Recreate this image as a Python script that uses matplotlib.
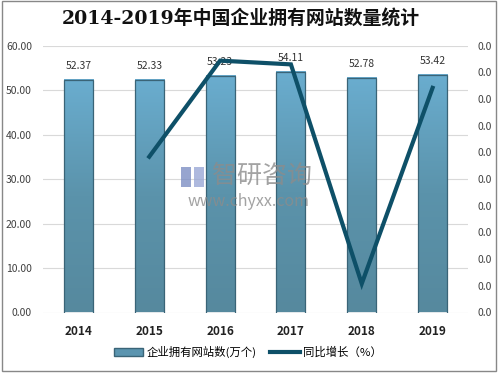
import numpy as np
import matplotlib
matplotlib.use("Agg")
import matplotlib.pyplot as plt
from matplotlib.patches import Rectangle, Patch
from matplotlib.lines import Line2D

plt.rcParams['font.family'] = ['Noto Sans CJK SC', 'DejaVu Sans']

# data
years = ['2014', '2015', '2016', '2017', '2018', '2019']
sites = [52.37, 52.33, 53.23, 54.11, 52.78, 53.42]
growth = [None, -0.0008, 0.0172, 0.0165, -0.0246, 0.0121]
left_ticks = [0, 10, 20, 30, 40, 50, 60]
right_ticks = [-0.03, -0.025, -0.02, -0.015, -0.01, -0.005, 0, 0.005, 0.01, 0.015, 0.02]

fig = plt.figure(figsize=(5.0, 3.77), dpi=100)
W, H = 500, 377
ax = fig.add_axes([43 / W, 1 - 312.5 / H, (468 - 43) / W, (312.5 - 45.7) / H])

x = np.arange(len(years))
bw = 0.41

# gradient bars
grad = np.linspace(0, 1, 256).reshape(-1, 1)
cmap = matplotlib.colors.LinearSegmentedColormap.from_list('b', ['#56899e', '#5b93ab', '#6aadcf'])
for xi, v in zip(x, sites):
    ax.imshow(grad, cmap=cmap, aspect='auto', origin='lower',
              extent=(xi - bw / 2, xi + bw / 2, 0, v), zorder=2)
    ax.add_patch(Rectangle((xi - bw / 2, 0), bw, v, fill=False,
                           edgecolor='#3a6477', lw=0.9, zorder=3))
    ax.text(xi, v + 2.0, f'{v:.2f}', ha='center', va='bottom', fontsize=7.5,
            color='#333333', zorder=4)
ax.set_xlim(-0.5, 5.5)
ax.set_ylim(0, 60)

ax.set_yticks(left_ticks)
ax.set_yticklabels([f'{t:.2f}' for t in left_ticks], fontsize=7.5, color='#404040')
ax.set_xticks(x)
ax.set_xticklabels(years, fontsize=8.5, fontweight='bold', color='#222222')
ax.tick_params(axis='both', length=0)
ax.tick_params(axis='x', pad=9)
ax.tick_params(axis='y', pad=8)
ax.grid(axis='y', color='#d9d9d9', lw=0.8, zorder=0)
ax.set_axisbelow(True)
for s in ax.spines.values():
    s.set_visible(False)

ax2 = ax.twinx()
ax2.set_ylim(-0.03, 0.02)
ax2.plot(x[1:], growth[1:], color='#0e5068', lw=3, zorder=5, solid_joinstyle='miter')
ax2.set_yticks(right_ticks)
ax2.set_yticklabels(['0.0'] * len(right_ticks), fontsize=7.5, color='#404040')
ax2.tick_params(axis='y', length=0, pad=7)
for s in ax2.spines.values():
    s.set_visible(False)

fig.text(241 / W, 1 - 19 / H, '2014-2019年中国企业拥有网站数量统计', ha='center', va='center',
         fontsize=13.6, fontweight='bold', color='#111111',
         family=['DejaVu Serif', 'Noto Sans CJK SC'])

# watermark
fig.text(262 / W, 1 - 176 / H, '智研咨询', ha='center', va='center', fontsize=18,
         color='#8c8c8c', alpha=0.8, zorder=10)
fig.add_artist(Rectangle((181 / W, 1 - 187 / H), 10 / W, 20 / H, facecolor='#7d8fc4',
                         edgecolor='none', alpha=0.8, transform=fig.transFigure, zorder=10))
fig.add_artist(Rectangle((194 / W, 1 - 187 / H), 10 / W, 20 / H, facecolor='#9aa8d6',
                         edgecolor='none', alpha=0.8, transform=fig.transFigure, zorder=10))
fig.text(249 / W, 1 - 201 / H, 'www.chyxx.com', ha='center', va='center', fontsize=11.5,
         color='#8c8c8c', alpha=0.8, zorder=10)

handles = [Patch(facecolor='#5b95b0', edgecolor='#3a6477'),
           Line2D([0], [0], color='#0e5068', lw=3)]
fig.legend(handles, ['企业拥有网站数(万个)', '同比增长（%）'], loc='center',
           bbox_to_anchor=(248 / W, 1 - 352 / H), ncol=2, frameon=False,
           fontsize=8.2, handlelength=2.6, handleheight=0.6, columnspacing=1.2,
           handletextpad=0.3)

# outer frame
fig.add_artist(Rectangle((2 / W, 1 - 371 / H), 494 / W, 370 / H, fill=False,
                         edgecolor='#888888', lw=1, transform=fig.transFigure))

fig.savefig('out.png', dpi=100)
